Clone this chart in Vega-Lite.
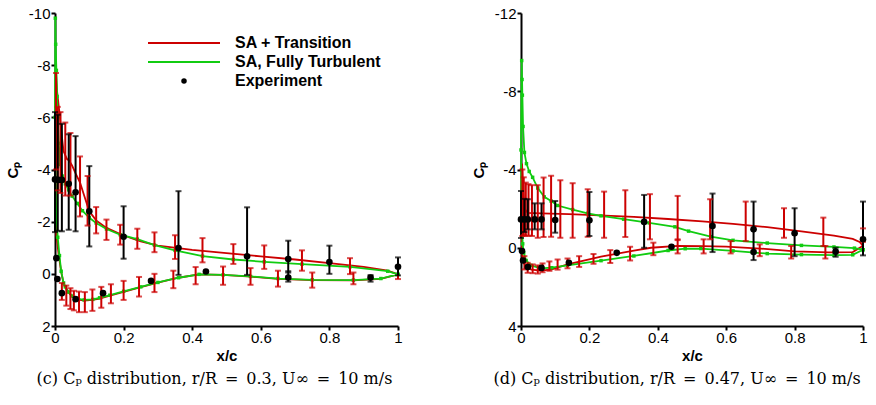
{
"$schema": "https://vega.github.io/schema/vega-lite/v6.json",
"padding": {"left": 5, "top": 6, "right": 5, "bottom": 5},
"bounds": "flush",
"spacing": 123,
"resolve": {"scale": {"color": "independent"}, "legend": {"color": "independent"}},
"config": {
  "view": {"stroke": null},
  "font": "Liberation Sans",
  "axis": {"domainColor": "black", "domainWidth": 2, "tickColor": "black", "tickOpacity": 1, "ticks": true, "labelColor": "black", "labelFont": "Liberation Sans", "labelFontSize": 15, "titleFont": "Liberation Sans", "titleFontSize": 15, "titleFontWeight": "bold", "titleColor": "black", "grid": false, "labelOverlap": false}
},
"datasets": {
"lines": [
{"p":"c","s":"SA + Transition","o":1,"x":1.0,"cp":0.02},
{"p":"c","s":"SA + Transition","o":2,"x":0.97,"cp":-0.12},
{"p":"c","s":"SA + Transition","o":3,"x":0.9,"cp":-0.27},
{"p":"c","s":"SA + Transition","o":4,"x":0.8,"cp":-0.41},
{"p":"c","s":"SA + Transition","o":5,"x":0.7,"cp":-0.55},
{"p":"c","s":"SA + Transition","o":6,"x":0.6,"cp":-0.67},
{"p":"c","s":"SA + Transition","o":7,"x":0.5,"cp":-0.79},
{"p":"c","s":"SA + Transition","o":8,"x":0.4,"cp":-0.92},
{"p":"c","s":"SA + Transition","o":9,"x":0.3,"cp":-1.08},
{"p":"c","s":"SA + Transition","o":10,"x":0.25,"cp":-1.24},
{"p":"c","s":"SA + Transition","o":11,"x":0.2,"cp":-1.47},
{"p":"c","s":"SA + Transition","o":12,"x":0.15,"cp":-1.76},
{"p":"c","s":"SA + Transition","o":13,"x":0.12,"cp":-2.05},
{"p":"c","s":"SA + Transition","o":14,"x":0.1,"cp":-2.4},
{"p":"c","s":"SA + Transition","o":15,"x":0.085,"cp":-3.0},
{"p":"c","s":"SA + Transition","o":16,"x":0.073,"cp":-3.5},
{"p":"c","s":"SA + Transition","o":17,"x":0.06,"cp":-3.85},
{"p":"c","s":"SA + Transition","o":18,"x":0.05,"cp":-4.15},
{"p":"c","s":"SA + Transition","o":19,"x":0.041,"cp":-4.35},
{"p":"c","s":"SA + Transition","o":20,"x":0.035,"cp":-4.4},
{"p":"c","s":"SA + Transition","o":21,"x":0.025,"cp":-4.7},
{"p":"c","s":"SA + Transition","o":22,"x":0.018,"cp":-5.5},
{"p":"c","s":"SA + Transition","o":23,"x":0.012,"cp":-6.3},
{"p":"c","s":"SA + Transition","o":24,"x":0.006,"cp":-7.0},
{"p":"c","s":"SA + Transition","o":25,"x":0.003,"cp":-7.7},
{"p":"c","s":"SA + Transition","o":26,"x":0.0,"cp":-4.0},
{"p":"c","s":"SA + Transition","o":27,"x":0.004,"cp":-1.5},
{"p":"c","s":"SA + Transition","o":28,"x":0.01,"cp":-0.8},
{"p":"c","s":"SA + Transition","o":29,"x":0.018,"cp":-0.08},
{"p":"c","s":"SA + Transition","o":30,"x":0.025,"cp":0.37},
{"p":"c","s":"SA + Transition","o":31,"x":0.03,"cp":0.52},
{"p":"c","s":"SA + Transition","o":32,"x":0.04,"cp":0.72},
{"p":"c","s":"SA + Transition","o":33,"x":0.05,"cp":0.87},
{"p":"c","s":"SA + Transition","o":34,"x":0.065,"cp":0.98},
{"p":"c","s":"SA + Transition","o":35,"x":0.085,"cp":1.03},
{"p":"c","s":"SA + Transition","o":36,"x":0.11,"cp":1.0},
{"p":"c","s":"SA + Transition","o":37,"x":0.13,"cp":0.95},
{"p":"c","s":"SA + Transition","o":38,"x":0.16,"cp":0.84},
{"p":"c","s":"SA + Transition","o":39,"x":0.2,"cp":0.69},
{"p":"c","s":"SA + Transition","o":40,"x":0.25,"cp":0.51},
{"p":"c","s":"SA + Transition","o":41,"x":0.3,"cp":0.34},
{"p":"c","s":"SA + Transition","o":42,"x":0.36,"cp":0.15},
{"p":"c","s":"SA + Transition","o":43,"x":0.42,"cp":0.02},
{"p":"c","s":"SA + Transition","o":44,"x":0.49,"cp":0.04},
{"p":"c","s":"SA + Transition","o":45,"x":0.57,"cp":0.11},
{"p":"c","s":"SA + Transition","o":46,"x":0.65,"cp":0.19},
{"p":"c","s":"SA + Transition","o":47,"x":0.75,"cp":0.24},
{"p":"c","s":"SA + Transition","o":48,"x":0.87,"cp":0.25},
{"p":"c","s":"SA + Transition","o":49,"x":0.95,"cp":0.19},
{"p":"c","s":"SA + Transition","o":50,"x":1.0,"cp":0.02},
{"p":"c","s":"SA, Fully Turbulent","o":1,"x":1.0,"cp":0.02},
{"p":"c","s":"SA, Fully Turbulent","o":2,"x":0.97,"cp":-0.1},
{"p":"c","s":"SA, Fully Turbulent","o":3,"x":0.86,"cp":-0.27},
{"p":"c","s":"SA, Fully Turbulent","o":4,"x":0.72,"cp":-0.37},
{"p":"c","s":"SA, Fully Turbulent","o":5,"x":0.61,"cp":-0.46},
{"p":"c","s":"SA, Fully Turbulent","o":6,"x":0.52,"cp":-0.55},
{"p":"c","s":"SA, Fully Turbulent","o":7,"x":0.43,"cp":-0.68},
{"p":"c","s":"SA, Fully Turbulent","o":8,"x":0.35,"cp":-0.9},
{"p":"c","s":"SA, Fully Turbulent","o":9,"x":0.29,"cp":-1.1},
{"p":"c","s":"SA, Fully Turbulent","o":10,"x":0.24,"cp":-1.33},
{"p":"c","s":"SA, Fully Turbulent","o":11,"x":0.19,"cp":-1.5},
{"p":"c","s":"SA, Fully Turbulent","o":12,"x":0.15,"cp":-1.72},
{"p":"c","s":"SA, Fully Turbulent","o":13,"x":0.12,"cp":-1.95},
{"p":"c","s":"SA, Fully Turbulent","o":14,"x":0.1,"cp":-2.15},
{"p":"c","s":"SA, Fully Turbulent","o":15,"x":0.08,"cp":-2.42},
{"p":"c","s":"SA, Fully Turbulent","o":16,"x":0.065,"cp":-2.7},
{"p":"c","s":"SA, Fully Turbulent","o":17,"x":0.05,"cp":-2.98},
{"p":"c","s":"SA, Fully Turbulent","o":18,"x":0.04,"cp":-3.22},
{"p":"c","s":"SA, Fully Turbulent","o":19,"x":0.03,"cp":-3.45},
{"p":"c","s":"SA, Fully Turbulent","o":20,"x":0.021,"cp":-3.75},
{"p":"c","s":"SA, Fully Turbulent","o":21,"x":0.015,"cp":-4.2},
{"p":"c","s":"SA, Fully Turbulent","o":22,"x":0.011,"cp":-5.0},
{"p":"c","s":"SA, Fully Turbulent","o":23,"x":0.008,"cp":-6.0},
{"p":"c","s":"SA, Fully Turbulent","o":24,"x":0.006,"cp":-6.8},
{"p":"c","s":"SA, Fully Turbulent","o":25,"x":0.004,"cp":-7.8},
{"p":"c","s":"SA, Fully Turbulent","o":26,"x":0.002,"cp":-8.8},
{"p":"c","s":"SA, Fully Turbulent","o":27,"x":0.001,"cp":-9.8},
{"p":"c","s":"SA, Fully Turbulent","o":28,"x":0.0,"cp":-6.0},
{"p":"c","s":"SA, Fully Turbulent","o":29,"x":0.003,"cp":-2.5},
{"p":"c","s":"SA, Fully Turbulent","o":30,"x":0.008,"cp":-1.4},
{"p":"c","s":"SA, Fully Turbulent","o":31,"x":0.013,"cp":-0.7},
{"p":"c","s":"SA, Fully Turbulent","o":32,"x":0.018,"cp":-0.1},
{"p":"c","s":"SA, Fully Turbulent","o":33,"x":0.025,"cp":0.35},
{"p":"c","s":"SA, Fully Turbulent","o":34,"x":0.03,"cp":0.5},
{"p":"c","s":"SA, Fully Turbulent","o":35,"x":0.04,"cp":0.7},
{"p":"c","s":"SA, Fully Turbulent","o":36,"x":0.05,"cp":0.85},
{"p":"c","s":"SA, Fully Turbulent","o":37,"x":0.065,"cp":0.95},
{"p":"c","s":"SA, Fully Turbulent","o":38,"x":0.085,"cp":1.0},
{"p":"c","s":"SA, Fully Turbulent","o":39,"x":0.11,"cp":0.98},
{"p":"c","s":"SA, Fully Turbulent","o":40,"x":0.13,"cp":0.92},
{"p":"c","s":"SA, Fully Turbulent","o":41,"x":0.16,"cp":0.82},
{"p":"c","s":"SA, Fully Turbulent","o":42,"x":0.2,"cp":0.67},
{"p":"c","s":"SA, Fully Turbulent","o":43,"x":0.25,"cp":0.5},
{"p":"c","s":"SA, Fully Turbulent","o":44,"x":0.3,"cp":0.33},
{"p":"c","s":"SA, Fully Turbulent","o":45,"x":0.36,"cp":0.15},
{"p":"c","s":"SA, Fully Turbulent","o":46,"x":0.42,"cp":0.02},
{"p":"c","s":"SA, Fully Turbulent","o":47,"x":0.49,"cp":0.04},
{"p":"c","s":"SA, Fully Turbulent","o":48,"x":0.57,"cp":0.1},
{"p":"c","s":"SA, Fully Turbulent","o":49,"x":0.65,"cp":0.18},
{"p":"c","s":"SA, Fully Turbulent","o":50,"x":0.75,"cp":0.23},
{"p":"c","s":"SA, Fully Turbulent","o":51,"x":0.87,"cp":0.24},
{"p":"c","s":"SA, Fully Turbulent","o":52,"x":0.95,"cp":0.18},
{"p":"c","s":"SA, Fully Turbulent","o":53,"x":1.0,"cp":0.02},
{"p":"d","s":"SA + Transition","o":1,"x":1.0,"cp":-0.1},
{"p":"d","s":"SA + Transition","o":2,"x":0.99,"cp":-0.3},
{"p":"d","s":"SA + Transition","o":3,"x":0.97,"cp":-0.45},
{"p":"d","s":"SA + Transition","o":4,"x":0.915,"cp":-0.62},
{"p":"d","s":"SA + Transition","o":5,"x":0.82,"cp":-0.84},
{"p":"d","s":"SA + Transition","o":6,"x":0.72,"cp":-1.05},
{"p":"d","s":"SA + Transition","o":7,"x":0.62,"cp":-1.22},
{"p":"d","s":"SA + Transition","o":8,"x":0.53,"cp":-1.35},
{"p":"d","s":"SA + Transition","o":9,"x":0.43,"cp":-1.47},
{"p":"d","s":"SA + Transition","o":10,"x":0.33,"cp":-1.58},
{"p":"d","s":"SA + Transition","o":11,"x":0.23,"cp":-1.65},
{"p":"d","s":"SA + Transition","o":12,"x":0.14,"cp":-1.72},
{"p":"d","s":"SA + Transition","o":13,"x":0.06,"cp":-1.76},
{"p":"d","s":"SA + Transition","o":14,"x":0.02,"cp":-1.78},
{"p":"d","s":"SA + Transition","o":15,"x":0.01,"cp":-2.0},
{"p":"d","s":"SA + Transition","o":16,"x":0.006,"cp":-3.0},
{"p":"d","s":"SA + Transition","o":17,"x":0.003,"cp":-4.3},
{"p":"d","s":"SA + Transition","o":18,"x":0.0,"cp":-2.0},
{"p":"d","s":"SA + Transition","o":19,"x":0.003,"cp":0.3},
{"p":"d","s":"SA + Transition","o":20,"x":0.008,"cp":0.78},
{"p":"d","s":"SA + Transition","o":21,"x":0.015,"cp":0.98},
{"p":"d","s":"SA + Transition","o":22,"x":0.03,"cp":1.12},
{"p":"d","s":"SA + Transition","o":23,"x":0.058,"cp":1.17},
{"p":"d","s":"SA + Transition","o":24,"x":0.09,"cp":1.1},
{"p":"d","s":"SA + Transition","o":25,"x":0.136,"cp":0.85},
{"p":"d","s":"SA + Transition","o":26,"x":0.234,"cp":0.45},
{"p":"d","s":"SA + Transition","o":27,"x":0.33,"cp":0.15},
{"p":"d","s":"SA + Transition","o":28,"x":0.38,"cp":0.0},
{"p":"d","s":"SA + Transition","o":29,"x":0.458,"cp":-0.1},
{"p":"d","s":"SA + Transition","o":30,"x":0.53,"cp":-0.08},
{"p":"d","s":"SA + Transition","o":31,"x":0.6,"cp":-0.06},
{"p":"d","s":"SA + Transition","o":32,"x":0.7,"cp":0.04},
{"p":"d","s":"SA + Transition","o":33,"x":0.8,"cp":0.19},
{"p":"d","s":"SA + Transition","o":34,"x":0.9,"cp":0.24},
{"p":"d","s":"SA + Transition","o":35,"x":0.97,"cp":0.22},
{"p":"d","s":"SA + Transition","o":36,"x":1.0,"cp":-0.1},
{"p":"d","s":"SA, Fully Turbulent","o":1,"x":1.0,"cp":0.1},
{"p":"d","s":"SA, Fully Turbulent","o":2,"x":0.975,"cp":0.02},
{"p":"d","s":"SA, Fully Turbulent","o":3,"x":0.915,"cp":-0.04},
{"p":"d","s":"SA, Fully Turbulent","o":4,"x":0.82,"cp":-0.12},
{"p":"d","s":"SA, Fully Turbulent","o":5,"x":0.72,"cp":-0.24},
{"p":"d","s":"SA, Fully Turbulent","o":6,"x":0.62,"cp":-0.38},
{"p":"d","s":"SA, Fully Turbulent","o":7,"x":0.555,"cp":-0.57},
{"p":"d","s":"SA, Fully Turbulent","o":8,"x":0.49,"cp":-0.85},
{"p":"d","s":"SA, Fully Turbulent","o":9,"x":0.45,"cp":-1.07},
{"p":"d","s":"SA, Fully Turbulent","o":10,"x":0.375,"cp":-1.27},
{"p":"d","s":"SA, Fully Turbulent","o":11,"x":0.3,"cp":-1.46},
{"p":"d","s":"SA, Fully Turbulent","o":12,"x":0.234,"cp":-1.63},
{"p":"d","s":"SA, Fully Turbulent","o":13,"x":0.195,"cp":-1.76},
{"p":"d","s":"SA, Fully Turbulent","o":14,"x":0.151,"cp":-1.95},
{"p":"d","s":"SA, Fully Turbulent","o":15,"x":0.107,"cp":-2.16},
{"p":"d","s":"SA, Fully Turbulent","o":16,"x":0.088,"cp":-2.39},
{"p":"d","s":"SA, Fully Turbulent","o":17,"x":0.068,"cp":-2.6},
{"p":"d","s":"SA, Fully Turbulent","o":18,"x":0.049,"cp":-3.05},
{"p":"d","s":"SA, Fully Turbulent","o":19,"x":0.034,"cp":-3.6},
{"p":"d","s":"SA, Fully Turbulent","o":20,"x":0.024,"cp":-3.9},
{"p":"d","s":"SA, Fully Turbulent","o":21,"x":0.016,"cp":-4.3},
{"p":"d","s":"SA, Fully Turbulent","o":22,"x":0.01,"cp":-4.87},
{"p":"d","s":"SA, Fully Turbulent","o":23,"x":0.006,"cp":-6.2},
{"p":"d","s":"SA, Fully Turbulent","o":24,"x":0.004,"cp":-7.8},
{"p":"d","s":"SA, Fully Turbulent","o":25,"x":0.003,"cp":-8.6},
{"p":"d","s":"SA, Fully Turbulent","o":26,"x":0.002,"cp":-9.57},
{"p":"d","s":"SA, Fully Turbulent","o":27,"x":0.0,"cp":-5.0},
{"p":"d","s":"SA, Fully Turbulent","o":28,"x":0.002,"cp":-1.5},
{"p":"d","s":"SA, Fully Turbulent","o":29,"x":0.005,"cp":-0.2},
{"p":"d","s":"SA, Fully Turbulent","o":30,"x":0.008,"cp":0.26},
{"p":"d","s":"SA, Fully Turbulent","o":31,"x":0.015,"cp":0.65},
{"p":"d","s":"SA, Fully Turbulent","o":32,"x":0.029,"cp":0.9},
{"p":"d","s":"SA, Fully Turbulent","o":33,"x":0.058,"cp":1.05},
{"p":"d","s":"SA, Fully Turbulent","o":34,"x":0.09,"cp":1.02},
{"p":"d","s":"SA, Fully Turbulent","o":35,"x":0.136,"cp":0.9},
{"p":"d","s":"SA, Fully Turbulent","o":36,"x":0.234,"cp":0.66},
{"p":"d","s":"SA, Fully Turbulent","o":37,"x":0.33,"cp":0.42},
{"p":"d","s":"SA, Fully Turbulent","o":38,"x":0.43,"cp":0.14},
{"p":"d","s":"SA, Fully Turbulent","o":39,"x":0.48,"cp":0.05},
{"p":"d","s":"SA, Fully Turbulent","o":40,"x":0.526,"cp":0.04},
{"p":"d","s":"SA, Fully Turbulent","o":41,"x":0.62,"cp":0.16},
{"p":"d","s":"SA, Fully Turbulent","o":42,"x":0.72,"cp":0.3},
{"p":"d","s":"SA, Fully Turbulent","o":43,"x":0.82,"cp":0.35},
{"p":"d","s":"SA, Fully Turbulent","o":44,"x":0.915,"cp":0.38},
{"p":"d","s":"SA, Fully Turbulent","o":45,"x":0.97,"cp":0.36},
{"p":"d","s":"SA, Fully Turbulent","o":46,"x":1.0,"cp":0.1}
],
"bars": [
{"p":"c","k":"r","x":0.003,"lo":-7.7,"hi":-4.0},
{"p":"c","k":"r","x":0.008,"lo":-6.4,"hi":-3.2},
{"p":"c","k":"r","x":0.016,"lo":-6.2,"hi":-3.1},
{"p":"c","k":"r","x":0.03,"lo":-5.8,"hi":-3.0},
{"p":"c","k":"r","x":0.045,"lo":-5.4,"hi":-3.0},
{"p":"c","k":"r","x":0.073,"lo":-4.5,"hi":-2.2},
{"p":"c","k":"r","x":0.095,"lo":-3.75,"hi":-1.85},
{"p":"c","k":"r","x":0.12,"lo":-2.56,"hi":-1.55},
{"p":"c","k":"r","x":0.15,"lo":-2.08,"hi":-1.3},
{"p":"c","k":"r","x":0.19,"lo":-1.88,"hi":-1.12},
{"p":"c","k":"r","x":0.24,"lo":-1.73,"hi":-0.96},
{"p":"c","k":"r","x":0.29,"lo":-1.59,"hi":-0.83},
{"p":"c","k":"r","x":0.35,"lo":-1.48,"hi":-0.57},
{"p":"c","k":"r","x":0.43,"lo":-1.37,"hi":-0.44},
{"p":"c","k":"r","x":0.52,"lo":-1.14,"hi":-0.38},
{"p":"c","k":"r","x":0.61,"lo":-1.09,"hi":-0.19},
{"p":"c","k":"r","x":0.72,"lo":-0.9,"hi":-0.12},
{"p":"c","k":"r","x":0.86,"lo":-0.6,"hi":0.01},
{"p":"c","k":"r","x":1.0,"lo":-0.3,"hi":0.2},
{"p":"c","k":"r","x":0.02,"lo":0.35,"hi":1.0},
{"p":"c","k":"r","x":0.033,"lo":0.45,"hi":1.22},
{"p":"c","k":"r","x":0.045,"lo":0.55,"hi":1.35},
{"p":"c","k":"r","x":0.055,"lo":0.65,"hi":1.4},
{"p":"c","k":"r","x":0.07,"lo":0.68,"hi":1.47},
{"p":"c","k":"r","x":0.087,"lo":0.7,"hi":1.47},
{"p":"c","k":"r","x":0.109,"lo":0.6,"hi":1.42},
{"p":"c","k":"r","x":0.135,"lo":0.5,"hi":1.3},
{"p":"c","k":"r","x":0.163,"lo":0.4,"hi":1.13},
{"p":"c","k":"r","x":0.2,"lo":0.27,"hi":1.0},
{"p":"c","k":"r","x":0.245,"lo":0.12,"hi":0.87},
{"p":"c","k":"r","x":0.29,"lo":0.0,"hi":0.7},
{"p":"c","k":"r","x":0.345,"lo":-0.12,"hi":0.55},
{"p":"c","k":"r","x":0.41,"lo":-0.26,"hi":0.4},
{"p":"c","k":"r","x":0.49,"lo":-0.28,"hi":0.42},
{"p":"c","k":"r","x":0.57,"lo":-0.22,"hi":0.42},
{"p":"c","k":"r","x":0.65,"lo":-0.12,"hi":0.49},
{"p":"c","k":"r","x":0.75,"lo":-0.05,"hi":0.53},
{"p":"c","k":"r","x":0.87,"lo":-0.05,"hi":0.4},
{"p":"c","k":"b","x":0.0,"lo":-6.2,"hi":-1.6},
{"p":"c","k":"b","x":0.008,"lo":-6.1,"hi":-1.65},
{"p":"c","k":"b","x":0.02,"lo":-5.75,"hi":-1.63},
{"p":"c","k":"b","x":0.04,"lo":-5.35,"hi":-1.69},
{"p":"c","k":"b","x":0.06,"lo":-5.28,"hi":-1.63},
{"p":"c","k":"b","x":0.1,"lo":-4.13,"hi":-1.05},
{"p":"c","k":"b","x":0.2,"lo":-2.59,"hi":-0.58},
{"p":"c","k":"b","x":0.36,"lo":-3.17,"hi":0.04},
{"p":"c","k":"b","x":0.56,"lo":-2.55,"hi":0.04},
{"p":"c","k":"b","x":0.68,"lo":-1.27,"hi":-0.05},
{"p":"c","k":"b","x":0.68,"lo":-0.1,"hi":0.3},
{"p":"c","k":"b","x":0.8,"lo":-1.08,"hi":0.0},
{"p":"c","k":"b","x":0.92,"lo":0.05,"hi":0.3},
{"p":"c","k":"b","x":1.0,"lo":-0.63,"hi":0.06},
{"p":"d","k":"r","x":0.004,"lo":-4.0,"hi":-0.6},
{"p":"d","k":"r","x":0.008,"lo":-3.6,"hi":-0.65},
{"p":"d","k":"r","x":0.014,"lo":-3.33,"hi":-0.6},
{"p":"d","k":"r","x":0.022,"lo":-3.25,"hi":-0.62},
{"p":"d","k":"r","x":0.032,"lo":-3.2,"hi":-0.6},
{"p":"d","k":"r","x":0.049,"lo":-3.2,"hi":-0.51},
{"p":"d","k":"r","x":0.066,"lo":-3.59,"hi":-0.55},
{"p":"d","k":"r","x":0.088,"lo":-3.68,"hi":-0.56},
{"p":"d","k":"r","x":0.115,"lo":-3.45,"hi":-0.51},
{"p":"d","k":"r","x":0.151,"lo":-3.3,"hi":-0.51},
{"p":"d","k":"r","x":0.195,"lo":-2.99,"hi":-0.56},
{"p":"d","k":"r","x":0.243,"lo":-2.87,"hi":-0.51},
{"p":"d","k":"r","x":0.305,"lo":-2.94,"hi":-0.55},
{"p":"d","k":"r","x":0.377,"lo":-2.74,"hi":-0.43},
{"p":"d","k":"r","x":0.458,"lo":-2.65,"hi":-0.39},
{"p":"d","k":"r","x":0.553,"lo":-2.48,"hi":-0.43},
{"p":"d","k":"r","x":0.657,"lo":-2.36,"hi":-0.34},
{"p":"d","k":"r","x":0.769,"lo":-2.02,"hi":-0.51},
{"p":"d","k":"r","x":0.884,"lo":-1.54,"hi":-0.09},
{"p":"d","k":"r","x":1.0,"lo":-0.99,"hi":-0.3},
{"p":"d","k":"r","x":0.01,"lo":0.43,"hi":1.11},
{"p":"d","k":"r","x":0.0195,"lo":0.77,"hi":1.28},
{"p":"d","k":"r","x":0.034,"lo":0.85,"hi":1.3},
{"p":"d","k":"r","x":0.049,"lo":0.9,"hi":1.32},
{"p":"d","k":"r","x":0.063,"lo":0.8,"hi":1.25},
{"p":"d","k":"r","x":0.083,"lo":0.7,"hi":1.18},
{"p":"d","k":"r","x":0.107,"lo":0.6,"hi":1.12},
{"p":"d","k":"r","x":0.136,"lo":0.55,"hi":1.05},
{"p":"d","k":"r","x":0.17,"lo":0.43,"hi":0.98},
{"p":"d","k":"r","x":0.212,"lo":0.32,"hi":0.82},
{"p":"d","k":"r","x":0.261,"lo":0.12,"hi":0.78},
{"p":"d","k":"r","x":0.319,"lo":-0.05,"hi":0.65},
{"p":"d","k":"r","x":0.387,"lo":-0.26,"hi":0.38},
{"p":"d","k":"r","x":0.458,"lo":-0.43,"hi":0.29},
{"p":"d","k":"r","x":0.534,"lo":-0.43,"hi":0.29},
{"p":"d","k":"r","x":0.613,"lo":-0.34,"hi":0.29},
{"p":"d","k":"r","x":0.698,"lo":-0.17,"hi":0.43},
{"p":"d","k":"r","x":0.79,"lo":-0.09,"hi":0.55},
{"p":"d","k":"r","x":0.89,"lo":-0.09,"hi":0.55},
{"p":"d","k":"b","x":0.0,"lo":-2.9,"hi":-0.5},
{"p":"d","k":"b","x":0.01,"lo":-2.5,"hi":-0.8},
{"p":"d","k":"b","x":0.02,"lo":-2.48,"hi":-0.94},
{"p":"d","k":"b","x":0.04,"lo":-2.27,"hi":-0.94},
{"p":"d","k":"b","x":0.06,"lo":-2.27,"hi":-0.94},
{"p":"d","k":"b","x":0.1,"lo":-2.39,"hi":-0.77},
{"p":"d","k":"b","x":0.2,"lo":-2.85,"hi":-0.6},
{"p":"d","k":"b","x":0.36,"lo":-2.7,"hi":0.0},
{"p":"d","k":"b","x":0.56,"lo":-2.77,"hi":0.22},
{"p":"d","k":"b","x":0.68,"lo":-2.36,"hi":0.63},
{"p":"d","k":"b","x":0.8,"lo":-2.02,"hi":0.43},
{"p":"d","k":"b","x":0.92,"lo":0.0,"hi":0.46},
{"p":"d","k":"b","x":1.0,"lo":-2.36,"hi":0.39}
],
"exp": [
{"p":"c","x":0.0,"cp":-3.62},{"p":"c","x":0.004,"cp":-0.6},{"p":"c","x":0.007,"cp":0.2},{"p":"c","x":0.01,"cp":-3.6},{"p":"c","x":0.02,"cp":-3.6},{"p":"c","x":0.02,"cp":0.74},{"p":"c","x":0.04,"cp":-3.45},{"p":"c","x":0.06,"cp":-3.13},{"p":"c","x":0.06,"cp":0.97},{"p":"c","x":0.1,"cp":-2.4},{"p":"c","x":0.14,"cp":0.74},{"p":"c","x":0.2,"cp":-1.42},{"p":"c","x":0.28,"cp":0.27},{"p":"c","x":0.36,"cp":-0.99},{"p":"c","x":0.44,"cp":-0.09},{"p":"c","x":0.56,"cp":-0.67},{"p":"c","x":0.68,"cp":-0.57},{"p":"c","x":0.68,"cp":0.14},{"p":"c","x":0.8,"cp":-0.45},{"p":"c","x":0.92,"cp":0.14},{"p":"c","x":1.0,"cp":-0.27},
{"p":"d","x":0.0,"cp":-1.45},{"p":"d","x":0.003,"cp":0.17},{"p":"d","x":0.006,"cp":0.65},{"p":"d","x":0.01,"cp":-1.45},{"p":"d","x":0.02,"cp":0.99},{"p":"d","x":0.02,"cp":-1.45},{"p":"d","x":0.04,"cp":-1.45},{"p":"d","x":0.06,"cp":-1.45},{"p":"d","x":0.06,"cp":1.03},{"p":"d","x":0.1,"cp":-1.42},{"p":"d","x":0.14,"cp":0.77},{"p":"d","x":0.2,"cp":-1.4},{"p":"d","x":0.28,"cp":0.26},{"p":"d","x":0.36,"cp":-1.32},{"p":"d","x":0.44,"cp":-0.05},{"p":"d","x":0.56,"cp":-1.11},{"p":"d","x":0.68,"cp":-0.94},{"p":"d","x":0.68,"cp":0.22},{"p":"d","x":0.8,"cp":-0.74},{"p":"d","x":0.92,"cp":0.2},{"p":"d","x":1.0,"cp":-0.43}
]
},
"hconcat": [
{
 "width": 343, "height": 313,
 "title": {"text": "(c) Cₚ distribution, r/R\u2002=\u20020.3, U∞\u2002=\u200210 m/s", "orient": "bottom", "anchor": "middle", "frame": "group", "font": "DejaVu Serif", "fontSize": 16, "fontWeight": "normal", "color": "black", "offset": 8, "dx": -12},
 "encoding": {
   "x": {"field": "x", "type": "quantitative", "scale": {"domain": [0, 1], "nice": false},
     "axis": {"orient": "bottom", "title": "x/c", "values": [0,0.2,0.4,0.6,0.8,1], "labelExpr": "'' + datum.value", "tickSize": 4, "tickWidth": 2, "labelOverlap": false, "labelFlush": false, "labelPadding": 0, "titlePadding": 3}}
 },
 "layer": [
  {"data": {"name": "lines"}, "transform": [{"filter": "datum.p === 'c'"}],
   "mark": {"type": "line", "strokeWidth": 1.8},
   "encoding": {
     "y": {"field": "cp", "type": "quantitative", "scale": {"domain": [-10, 2], "reverse": true, "nice": false},
       "axis": {"orient": "left", "title": "Cₚ", "values": [-10,-8,-6,-4,-2,0,2], "labelExpr": "'' + datum.value", "tickSize": 4, "tickWidth": 2, "labelOverlap": false, "labelPadding": 1, "titlePadding": 8}},
     "order": {"field": "o", "type": "quantitative"},
     "color": {"field": "s", "type": "nominal",
       "scale": {"domain": ["SA + Transition", "SA, Fully Turbulent", "Experiment"], "range": ["#cc0000", "#11cc11", "black"]},
       "legend": {"orient": "none", "legendX": 121, "legendY": 22, "title": null, "symbolType": "stroke", "symbolSize": 5184, "symbolStrokeWidth": 2,
         "labelFont": "Liberation Sans", "labelFontWeight": "bold", "labelFontSize": 16, "labelColor": "black", "labelOffset": 43, "labelLimit": 400, "rowPadding": 3,
         "encode": {"symbols": {"update": {
           "shape": {"signal": "datum.value === 'Experiment' ? 'circle' : 'stroke'"},
           "size": {"signal": "datum.value === 'Experiment' ? 30 : 5184"},
           "fill": {"signal": "datum.value === 'Experiment' ? 'black' : 'transparent'"},
           "strokeWidth": {"signal": "datum.value === 'Experiment' ? 0 : 2"}}}}}}
   }},
  {"data": {"name": "lines"}, "transform": [{"filter": "datum.p === 'c' && datum.s === 'SA, Fully Turbulent'"}],
   "mark": {"type": "point", "shape": "square", "filled": true, "size": 12, "color": "#11cc11", "opacity": 1},
   "encoding": {"y": {"field": "cp", "type": "quantitative"}}},
  {"data": {"name": "bars"}, "transform": [{"filter": "datum.p === 'c'"}],
   "mark": {"type": "rule", "strokeWidth": 2},
   "encoding": {"y": {"field": "lo", "type": "quantitative"}, "y2": {"field": "hi"},
     "color": {"condition": {"test": "datum.k === 'b'", "value": "black"}, "value": "#cc0000"}}},
  {"data": {"name": "bars"}, "transform": [{"filter": "datum.p === 'c'"}, {"fold": ["lo", "hi"], "as": ["end", "v"]}],
   "mark": {"type": "tick", "orient": "horizontal", "size": 6, "thickness": 2},
   "encoding": {"y": {"field": "v", "type": "quantitative"},
     "color": {"condition": {"test": "datum.k === 'b'", "value": "black"}, "value": "#cc0000"}}},
  {"data": {"name": "exp"}, "transform": [{"filter": "datum.p === 'c'"}],
   "mark": {"type": "circle", "size": 44, "color": "black", "opacity": 1},
   "encoding": {"y": {"field": "cp", "type": "quantitative"}}}
 ]
},
{
 "width": 342, "height": 313,
 "title": {"text": "(d) Cₚ distribution, r/R\u2002=\u20020.47, U∞\u2002=\u200210 m/s", "orient": "bottom", "anchor": "middle", "frame": "group", "font": "DejaVu Serif", "fontSize": 16, "fontWeight": "normal", "color": "black", "offset": 8, "dx": -15},
 "encoding": {
   "x": {"field": "x", "type": "quantitative", "scale": {"domain": [0, 1], "nice": false},
     "axis": {"orient": "bottom", "title": "x/c", "values": [0,0.2,0.4,0.6,0.8,1], "labelExpr": "'' + datum.value", "tickSize": 4, "tickWidth": 2, "labelOverlap": false, "labelFlush": false, "labelPadding": 0, "titlePadding": 3}}
 },
 "layer": [
  {"data": {"name": "lines"}, "transform": [{"filter": "datum.p === 'd'"}],
   "mark": {"type": "line", "strokeWidth": 1.8},
   "encoding": {
     "y": {"field": "cp", "type": "quantitative", "scale": {"domain": [-12, 4], "reverse": true, "nice": false},
       "axis": {"orient": "left", "title": "Cₚ", "values": [-12,-10,-8,-6,-4,-2,0,2,4], "labelExpr": "'' + datum.value", "tickSize": 4, "tickWidth": 2, "labelOverlap": false, "labelPadding": 1, "titlePadding": 8}},
     "order": {"field": "o", "type": "quantitative"},
     "color": {"field": "s", "type": "nominal",
       "scale": {"domain": ["SA + Transition", "SA, Fully Turbulent"], "range": ["#cc0000", "#11cc11"]}, "legend": null}
   }},
  {"data": {"name": "lines"}, "transform": [{"filter": "datum.p === 'd' && datum.s === 'SA, Fully Turbulent'"}],
   "mark": {"type": "point", "shape": "square", "filled": true, "size": 12, "color": "#11cc11", "opacity": 1},
   "encoding": {"y": {"field": "cp", "type": "quantitative"}}},
  {"data": {"name": "bars"}, "transform": [{"filter": "datum.p === 'd'"}],
   "mark": {"type": "rule", "strokeWidth": 2},
   "encoding": {"y": {"field": "lo", "type": "quantitative"}, "y2": {"field": "hi"},
     "color": {"condition": {"test": "datum.k === 'b'", "value": "black"}, "value": "#cc0000"}}},
  {"data": {"name": "bars"}, "transform": [{"filter": "datum.p === 'd'"}, {"fold": ["lo", "hi"], "as": ["end", "v"]}],
   "mark": {"type": "tick", "orient": "horizontal", "size": 6, "thickness": 2},
   "encoding": {"y": {"field": "v", "type": "quantitative"},
     "color": {"condition": {"test": "datum.k === 'b'", "value": "black"}, "value": "#cc0000"}}},
  {"data": {"name": "exp"}, "transform": [{"filter": "datum.p === 'd'"}],
   "mark": {"type": "circle", "size": 44, "color": "black", "opacity": 1},
   "encoding": {"y": {"field": "cp", "type": "quantitative"}}}
 ]
}
]
}
